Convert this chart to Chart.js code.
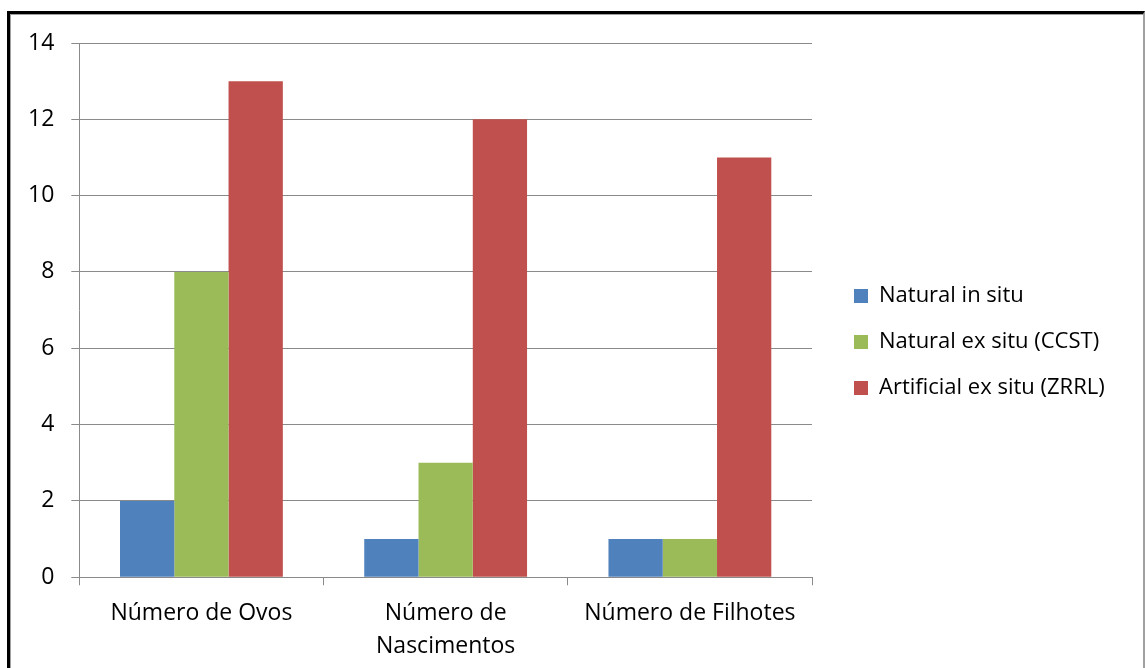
<!DOCTYPE html>
<html lang="pt">
<head>
  <meta charset="UTF-8">
  <title>Ovos, nascimentos e filhotes</title>
  <script src="https://cdn.jsdelivr.net/npm/chart.js"></script>
  <style>
    html, body {
      margin: 0;
      padding: 0;
      background: #fff;
      overflow: hidden;
    }

    #wrap {
      position: absolute;
      left: 0;
      top: 0;
      width: 1145px;
      height: 668px;
    }

    /* frame around the chart, like the Excel export */
    #frame {
      position: absolute;
      left: 7px;
      top: 11px;
      width: 1133px;
      height: 700px;
      border-left: 3px solid #000;
      border-top: 3px solid #000;
      border-right: 2px solid #a0a0a0;
      box-shadow: inset 1px 1px 0 #a0a0a0;
      pointer-events: none;
    }
  </style>
</head>
<body>
  <div id="wrap">
    <canvas id="myChart"></canvas>
  </div>
  <div id="frame"></div>

  <script>
    // categories and values
    const categories = ['Número de Ovos', ['Número de', 'Nascimentos'], 'Número de Filhotes'];
    const naturalInSitu = [2, 1, 1];
    const naturalExSitu = [8, 3, 1];
    const artificialExSitu = [13, 12, 11];
    const yTicks = [0, 2, 4, 6, 8, 10, 12, 14];

    const gridColor = '#8a8a8a';
    const fontFamily = '"Open Sans", Lato, sans-serif';

    // nudge the legend a bit away from the plot, as in the original,
    // and give it the rest of the width so the long labels are not cut
    const legendShift = {
      id: 'legendShift',
      afterLayout(chart) {
        const l = chart.legend;
        l.left += 18;
        l.right = chart.width - 4;
        l.width = l.right - l.left;
        l.top -= 17;
        l.bottom -= 17;
      }
    };

    const ctx = document.getElementById('myChart').getContext('2d');
    const chart = new Chart(ctx, {
      type: 'bar',
      data: {
        labels: categories,
        datasets: [
          { label: 'Natural in situ', data: naturalInSitu, backgroundColor: '#4F81BD' },
          { label: 'Natural ex situ (CCST)', data: naturalExSitu, backgroundColor: '#9BBB59' },
          { label: 'Artificial ex situ (ZRRL)', data: artificialExSitu, backgroundColor: '#C0504D' }
        ]
      },
      options: {
        responsive: true,
        maintainAspectRatio: false,
        animation: false,
        events: [],
        datasets: {
          bar: {
            categoryPercentage: 3 / 4.5,
            barPercentage: 1
          }
        },
        layout: {
          padding: { left: 11, top: 43, right: 66, bottom: -7 }
        },
        plugins: {
          tooltip: { enabled: false },
          legend: {
            position: 'right',
            labels: {
              boxWidth: 14,
              boxHeight: 14,
              padding: 24,
              color: '#000',
              font: { family: fontFamily, size: 22 }
            }
          }
        },
        scales: {
          x: {
            offset: true,
            grid: {
              offset: true,
              drawOnChartArea: false,
              drawTicks: true,
              tickLength: 8,
              color: gridColor
            },
            border: { color: gridColor },
            ticks: {
              color: '#000',
              padding: 12,
              maxRotation: 0,
              autoSkip: false,
              font: { family: fontFamily, size: 23, lineHeight: 1.43 }
            }
          },
          y: {
            min: 0,
            max: 14,
            afterBuildTicks(axis) {
              axis.ticks = yTicks.map(v => ({ value: v }));
            },
            grid: {
              color: gridColor,
              drawTicks: true,
              tickLength: 8
            },
            border: { color: gridColor },
            ticks: {
              color: '#000',
              padding: 17,
              font: { family: fontFamily, size: 23, lineHeight: 1.2 }
            }
          }
        }
      },
      plugins: [legendShift]
    });
  </script>
</body>
</html>
